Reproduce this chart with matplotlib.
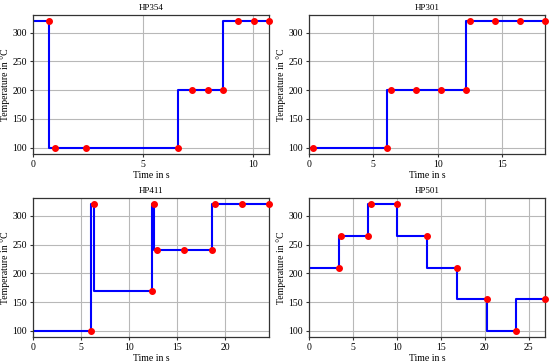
import matplotlib
matplotlib.use('Agg')
import matplotlib.pyplot as plt

# Measured points (time in s, temperature in degC) for each heating profile
hp354_t = [0.73, 1.0, 2.4, 6.58, 7.24, 7.94, 8.64, 9.33, 10.03, 10.72]
hp354_T = [320, 100, 100, 100, 200, 200, 200, 320, 320, 320]

hp301_t = [0.27, 6.05, 6.36, 8.3, 10.27, 12.24, 12.5, 14.48, 16.4, 18.36]
hp301_T = [100, 100, 200, 200, 200, 200, 320, 320, 320, 320]

hp411_t = [6.08, 6.36, 12.33, 12.6, 12.9, 15.67, 18.6, 18.9, 21.7, 24.55]
hp411_T = [100, 320, 170, 320, 240, 240, 240, 320, 320, 320]

hp501_t = [3.36, 3.66, 6.74, 7.0, 10.0, 13.4, 16.8, 20.2, 23.5, 26.85]
hp501_T = [210, 265, 265, 320, 320, 265, 210, 155, 100, 155]

titles = ['HP354', 'HP301', 'HP411', 'HP501']
series = [(hp354_t, hp354_T), (hp301_t, hp301_T), (hp411_t, hp411_T), (hp501_t, hp501_T)]
xticks = [[0, 5, 10], [0, 5, 10, 15], [0, 5, 10, 15, 20], [0, 5, 10, 15, 20, 25]]

plt.rcParams['font.family'] = ['Liberation Serif', 'DejaVu Serif']
plt.rcParams['font.size'] = 7

fig, axes = plt.subplots(2, 2, figsize=(5.5, 3.64), dpi=100)
plt.subplots_adjust(left=0.06, right=0.991, top=0.959, bottom=0.074, wspace=0.17, hspace=0.317)

for ax, title, (t, T), xt in zip(axes.flat, titles, series, xticks):
    # step line starts at the beginning of the axis
    ax.step([0] + t, [T[0]] + T, where='pre', color='#0000ff', lw=1.5, zorder=2)
    ax.plot(t, T, 'o', color='#ff0000', ms=4, zorder=3, clip_on=False)
    ax.set_xlim(0, t[-1])
    ax.set_ylim(89, 331)
    ax.set_xticks(xt)
    ax.set_yticks([100, 150, 200, 250, 300])
    ax.set_title(title, fontsize=6.5, pad=3.5)
    ax.set_xlabel('Time in s', labelpad=1)
    ax.set_ylabel('Temperature in °C', labelpad=1.5)
    ax.grid(True, color='#b8b8b8', lw=0.8)
    ax.set_axisbelow(True)
    ax.tick_params(length=2.5, width=0.8, pad=2, color='#333333')
    for s in ax.spines.values():
        s.set_color('#333333')
        s.set_linewidth(0.9)

plt.savefig('out.png', dpi=100)
